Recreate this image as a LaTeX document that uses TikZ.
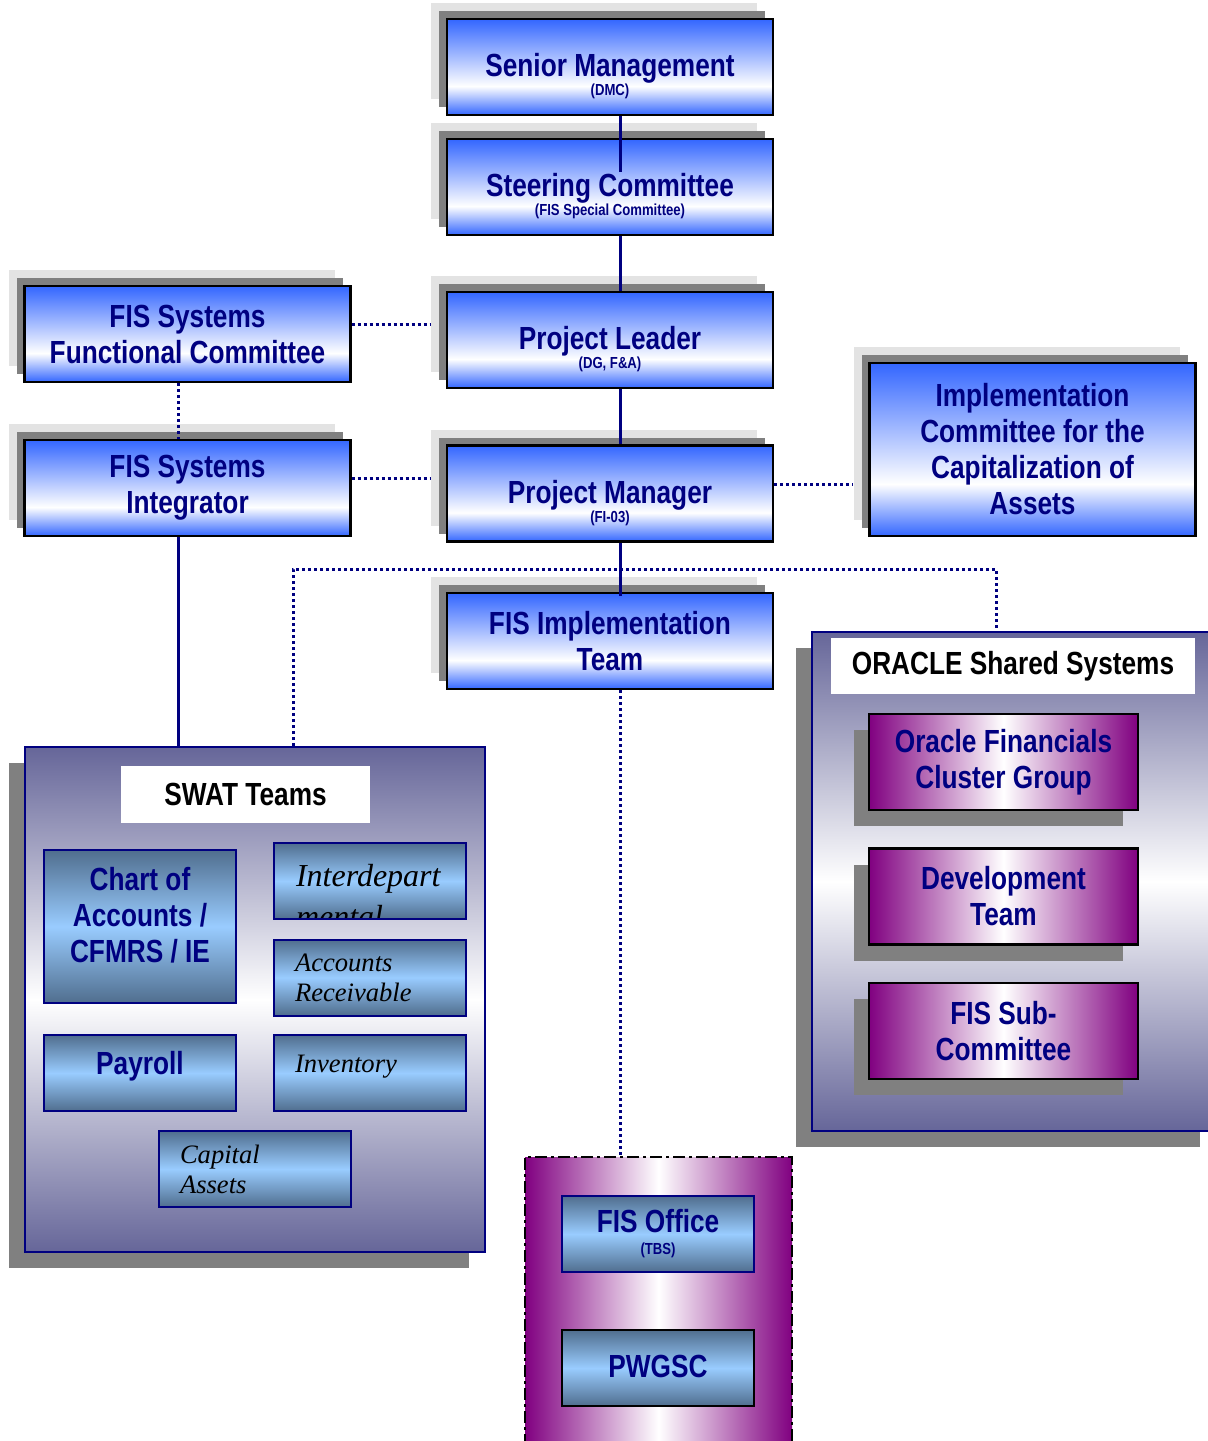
\documentclass[tikz,border=0pt]{standalone}
\usepackage{fontspec}
\newfontfamily\narrowsans{Liberation Sans}[FakeStretch=0.82]
\newfontfamily\timesit{Liberation Serif}
\usepackage{tikz}
\usetikzlibrary{shadows}
\usepackage{xcolor}

\definecolor{navytext}{HTML}{000080}
\definecolor{boxblue}{HTML}{3366FF}
\definecolor{steeldark}{HTML}{506E8E}
\definecolor{steellight}{HTML}{99CCFF}
\definecolor{groupslate}{HTML}{666699}
\definecolor{orchid}{HTML}{800080}
\definecolor{shadowdark}{HTML}{808080}
\definecolor{shadowlight}{HTML}{E3E3E3}

\pgfdeclareverticalshading{mainshade}{100bp}{color(0bp)=(boxblue); color(25bp)=(boxblue); color(40bp)=(white); color(75bp)=(boxblue); color(100bp)=(boxblue)}

\newcommand{\withsub}[2]{\rule{0pt}{21pt}#1\\[-8.5pt]{\fontsize{8}{9}\selectfont #2}}

\begin{document}
\begin{tikzpicture}[x=0.5pt, y=-0.5pt,
  boxtext/.style={font=\narrowsans\bfseries\fontsize{16}{18}\selectfont, text=navytext, align=center},
  mainbox/.style={boxtext, draw=black, line width=1.2pt, shade, shading=mainshade,
    minimum width=163pt, minimum height=48pt, inner sep=0pt,
    copy shadow={shadow xshift=-8pt, shadow yshift=8pt, fill=shadowlight, draw=none},
    copy shadow={shadow xshift=-4pt, shadow yshift=4pt, fill=shadowdark, draw=none}},
  groupbox/.style={draw=navytext, line width=1pt, top color=groupslate, bottom color=groupslate, middle color=white,
    copy shadow={shadow xshift=-8pt, shadow yshift=-8pt, fill=shadowdark, draw=none}},
  titlebox/.style={boxtext, fill=white, text=black, inner sep=0pt},
  steelbox/.style={boxtext, draw=navytext, line width=1pt, top color=steeldark, bottom color=steeldark,
    middle color=steellight, minimum width=96pt, minimum height=38pt, inner sep=0pt},
  italbox/.style={steelbox, font=\timesit\itshape\fontsize{13.3}{15}\selectfont, text=black, text width=75pt, align=left},
  purplebox/.style={boxtext, draw=black, line width=1.2pt, left color=orchid, right color=orchid, middle color=white,
    minimum width=134.5pt, minimum height=48pt, inner sep=0pt,
    copy shadow={shadow xshift=-7.5pt, shadow yshift=-8pt, fill=shadowdark, draw=none}},
  officegroup/.style={draw=black, line width=1pt, dash pattern=on 6pt off 2pt on 1.5pt off 2pt,
    left color=orchid, right color=orchid, middle color=white},
  solidlink/.style={draw=navytext, line width=1.5pt},
  dotlink/.style={draw=navytext, line width=1.5pt, dash pattern=on 1.5pt off 1.5pt}]
  \useasboundingbox (0,0) rectangle (1207,1441);

  \node[mainbox] (senior) at (610,67) {\withsub{Senior Management}{(DMC)}};
  \node[mainbox] (steer) at (610,187) {\withsub{Steering Committee}{(FIS Special Committee)}};
  \node[mainbox] (leader) at (610,340) {\withsub{Project Leader}{(DG, F\&A)}};
  \node[mainbox] (manager) at (610,493.5) {\withsub{Project Manager}{(FI-03)}};
  \node[mainbox] (implteam) at (610,641) {FIS Implementation\\Team};
  \node[mainbox] (funccomm) at (187.5,334) {FIS Systems\\Functional Committee};
  \node[mainbox] (integrator) at (187.5,488) {FIS Systems\\Integrator};
  \node[mainbox, minimum height=86.5pt] (capcomm) at (1032.5,449.5) {Implementation\\Committee for the\\Capitalization of\\Assets};

  \node[groupbox, minimum width=230pt, minimum height=252.5pt] (swat) at (255,999.5) {};
  \node[titlebox, minimum width=124.5pt, minimum height=28.5pt] (swattitle) at (245.5,794.5) {SWAT Teams};
  \node[steelbox, minimum height=76.5pt] (chart) at (140,926.5) {Chart of\\Accounts /\\CFMRS / IE\\[-6.5pt]\mbox{}};
  \node[steelbox, path picture={
      \node[anchor=north west, inner sep=0pt, minimum width=0pt, minimum height=0pt, draw=none,
        align=left, text=black, font=\timesit\itshape\fontsize{16}{18}\selectfont]
        at ([xshift=10.5pt, yshift=-10pt]path picture bounding box.north west) {Interdepart\\[2.5pt]mental};
    }] (interdept) at (370,881) {};
  \node[italbox] (receivable) at (370,977.5) {Accounts\\Receivable};
  \node[steelbox, text height=8pt, text depth=7pt] (payroll) at (140,1073) {Payroll};
  \node[italbox, text height=6pt, text depth=7pt] (inventory) at (370,1073) {Inventory};
  \node[italbox] (capassets) at (255,1169) {Capital\\Assets};

  \node[groupbox, minimum width=202pt, minimum height=249.5pt] (oracle) at (1014,881.5) {};
  \node[titlebox, minimum width=182pt, minimum height=28pt] (oracletitle) at (1013,666) {ORACLE Shared Systems};
  \node[purplebox] (cluster) at (1003.5,762) {Oracle Financials\\Cluster Group};
  \node[purplebox] (devteam) at (1003.5,896.5) {Development\\Team};
  \node[purplebox] (subcomm) at (1003.5,1031) {FIS Sub-\\Committee};

  \node[officegroup, minimum width=133.5pt, minimum height=146.5pt] (fisgroup) at (658.5,1303.5) {};
  \node[steelbox] (fisoffice) at (658,1234) {FIS Office\\[-7pt]{\fontsize{8}{9}\selectfont (TBS)}};
  \node[steelbox, draw=black, text height=12pt, text depth=2.5pt] (pwgsc) at (658,1368) {PWGSC};

  \draw[solidlink] ([xshift=5pt]senior.south) -- ([xshift=5pt, yshift=-17pt]steer.north);
  \draw[solidlink] ([xshift=5pt]steer.south) -- ([xshift=5pt]leader.north);
  \draw[solidlink] ([xshift=5pt]leader.south) -- ([xshift=5pt]manager.north);
  \draw[solidlink] ([xshift=5pt]manager.south) -- ([xshift=5pt, yshift=-2pt]implteam.north);
  \draw[solidlink] ([xshift=-4.75pt]integrator.south) -- ([xshift=-4.75pt]integrator.south |- swat.north);

  \draw[dotlink, shorten >=8pt] ([yshift=5pt]funccomm.east) -- ([yshift=5pt]funccomm.east -| leader.west);
  \draw[dotlink, shorten >=8pt] ([yshift=5pt]integrator.east) -- ([yshift=5pt]integrator.east -| manager.west);
  \draw[dotlink, shorten >=8pt] ([yshift=4.75pt]manager.east) -- ([yshift=4.75pt]manager.east -| capcomm.west);
  \draw[dotlink] ([xshift=-4.75pt]funccomm.south) -- ([xshift=-4.75pt]integrator.north);
  \coordinate (bus) at (620,569);
  \draw[dotlink] ([xshift=19pt]swat.north) |- (bus) -| ([xshift=-9pt]oracle.north);
  \draw[dotlink] ([xshift=5pt]implteam.south) -- ([xshift=5pt]implteam.south |- fisgroup.north);
\end{tikzpicture}
\end{document}
